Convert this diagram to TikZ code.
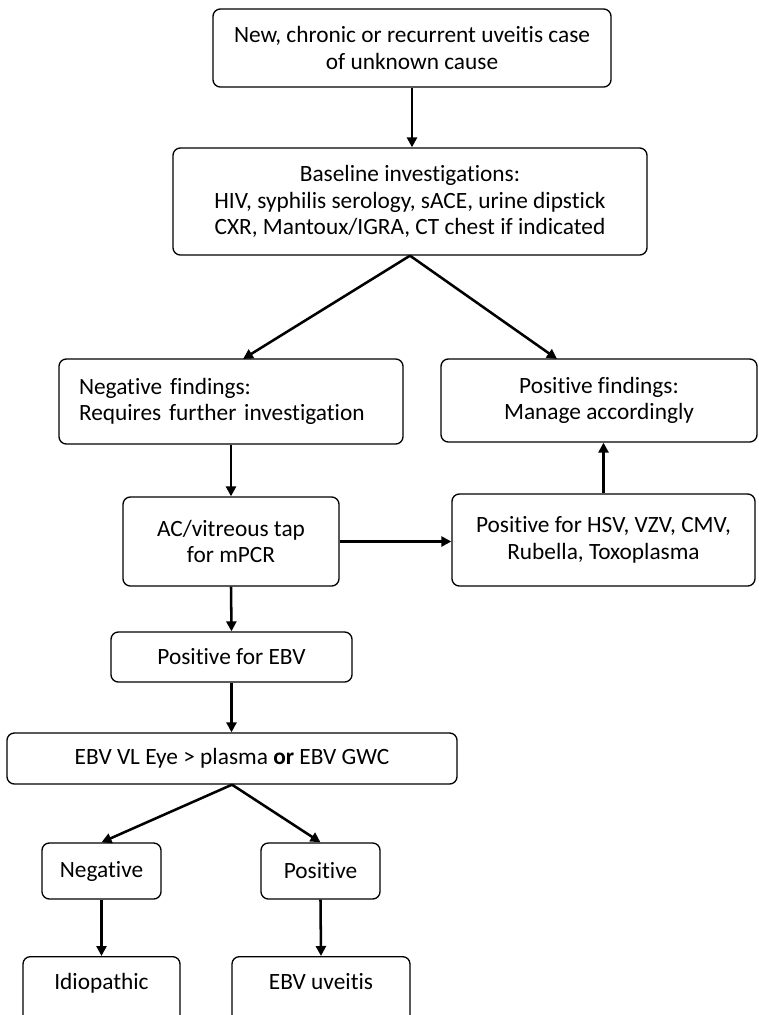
\documentclass[tikz,border=0pt]{standalone}
\usepackage{fontspec}
\setmainfont{Carlito}[Ligatures=NoCommon]
\usetikzlibrary{arrows.meta}
\newcommand{\px}{0.75pt}

\begin{document}
\begin{tikzpicture}[x=\px,y=-\px,
    font=\fontsize{17.5}{20}\selectfont,
    flowbox/.style={draw,line width=1pt,rounded corners=5.5pt,align=center,inner sep=0pt},
    flowarrow/.style={-{Triangle[length=7.5pt,width=7.5pt]},line width=1.9pt}]
    % size of page
      \def\pagew{758}
      \def\pageh{1015}
      \useasboundingbox (0,0) rectangle (\pagew,\pageh);

    % Draw the boxes
      \node[flowbox,minimum width=398*\px,minimum height=78*\px] (newcase) at (412,48)
        {New, chronic or recurrent uveitis case\\of unknown cause};
      \node[flowbox,minimum width=474*\px,minimum height=107*\px] (baseline) at (410,201.5)
        {Baseline investigations:\\HIV, syphilis serology, sACE, urine dipstick\\CXR, Mantoux/IGRA, CT chest if indicated};
      \node[flowbox,align=left,text width=304*\px,inner xsep=20*\px,minimum height=85*\px] (negfind) at (231,401.5)
        {Negative findings:\\Requires further investigation};
      \node[flowbox,minimum width=316*\px,minimum height=83*\px] (posfind) at (599,400.5)
        {Positive findings:\\Manage accordingly};
      \node[flowbox,minimum width=216*\px,minimum height=89*\px] (tap) at (231,541.5)
        {AC/vitreous tap\\for mPCR};
      \node[flowbox,minimum width=303*\px,minimum height=92*\px] (posother) at (603.5,540)
        {Positive for HSV, VZV, CMV,\\Rubella, Toxoplasma};
      \node[flowbox,minimum width=241*\px,minimum height=50*\px] (posebv) at (231.5,657)
        {Positive for EBV};
      \node[flowbox,minimum width=450*\px,minimum height=51*\px] (ebvvl) at (232,758.5)
        {EBV VL Eye > plasma \textbf{or} EBV GWC};
      \node[flowbox,minimum width=119*\px,minimum height=56*\px] (neg) at (101.5,871)
        {Negative};
      \node[flowbox,minimum width=119*\px,minimum height=56*\px] (pos) at (320.5,871)
        {Positive};
      \node[flowbox,minimum width=157*\px,text height=33*\px,text depth=41*\px,anchor=north] (idio) at (101.5,956)
        {Idiopathic};
      \node[flowbox,minimum width=178*\px,text height=33*\px,text depth=41*\px,anchor=north] (ebvu) at (321,956)
        {EBV uveitis};

    % arrow ends on the top of the findings boxes
      \coordinate (negin) at (243,359);
      \coordinate (posin) at (557,359);

    % Draw the arrows
      \draw[flowarrow] (newcase.south) -- (newcase.south |- baseline.north);
      \draw[flowarrow] (baseline.south) -- (negin);
      \draw[flowarrow] (baseline.south) -- (posin);
      \draw[flowarrow] (negfind.south) -- (tap.north);
      \draw[flowarrow] (tap.east) -- (tap.east -| posother.west);
      \draw[flowarrow] (posother.north) -- (posother.north |- posfind.south);
      \draw[flowarrow] (tap.south) -- (posebv.north);
      \draw[flowarrow] (posebv.south) -- (posebv.south |- ebvvl.north);
      \draw[flowarrow] (ebvvl.south) -- (neg.north);
      \draw[flowarrow] (ebvvl.south) -- (pos.north);
      \draw[flowarrow] (neg.south) -- (idio.north);
      \draw[flowarrow] (pos.south) -- (ebvu.north);

\end{tikzpicture}
\end{document}
